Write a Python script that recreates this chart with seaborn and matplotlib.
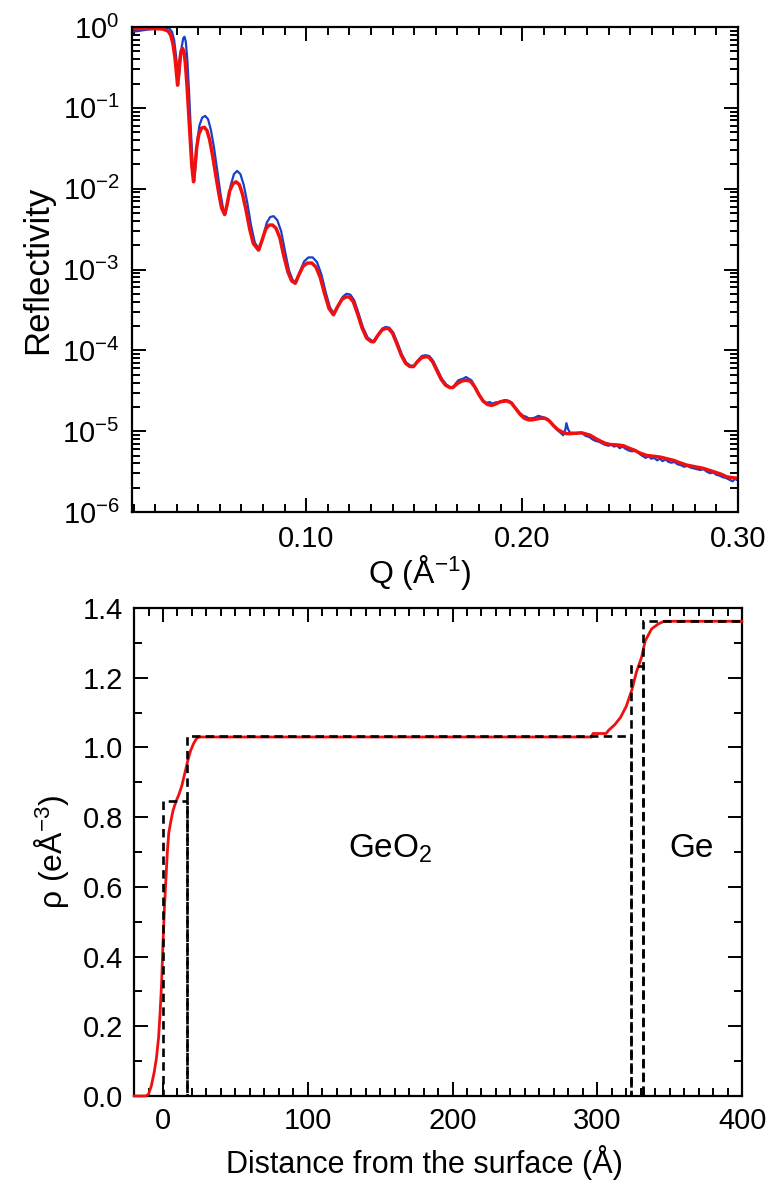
import numpy as np
import pandas as pd
import matplotlib
matplotlib.use('Agg')
import matplotlib.pyplot as plt
import matplotlib.ticker as mticker
import seaborn as sns

# --- reflectivity: measured data (blue) ---
q_data = [0.0193, 0.0230, 0.0270, 0.0310, 0.0340, 0.0365, 0.0378, 0.0388, 0.0397, 0.0405,
          0.0410, 0.0416, 0.0423, 0.0430, 0.0436, 0.0442, 0.0449, 0.0457, 0.0465, 0.0473,
          0.0481, 0.0487, 0.0495, 0.0505, 0.0518, 0.0532, 0.0545, 0.0558, 0.0572, 0.0587,
          0.0602, 0.0615, 0.0626, 0.0637, 0.0650, 0.0665, 0.0680, 0.0695, 0.0710, 0.0726,
          0.0744, 0.0762, 0.0783, 0.0800, 0.0817, 0.0833, 0.0849, 0.0866, 0.0884, 0.0902,
          0.0920, 0.0937, 0.0953, 0.0970, 0.0990, 0.1010, 0.1030, 0.1050, 0.1070, 0.1090,
          0.1110, 0.1130, 0.1148, 0.1168, 0.1186, 0.1204, 0.1222, 0.1242, 0.1262, 0.1284,
          0.1304, 0.1316, 0.1334, 0.1352, 0.1368, 0.1385, 0.1403, 0.1423, 0.1443, 0.1463,
          0.1483, 0.1500, 0.1518, 0.1535, 0.1552, 0.1570, 0.1588, 0.1608, 0.1628, 0.1648,
          0.1668, 0.1682, 0.1695, 0.1705, 0.1715, 0.1727, 0.1740, 0.1752, 0.1765, 0.1780,
          0.1800, 0.1818, 0.1835, 0.1850, 0.1862, 0.1875, 0.1890, 0.1905, 0.1918, 0.1932,
          0.1948, 0.1968, 0.1988, 0.2005, 0.2018, 0.2030, 0.2048, 0.2060, 0.2075, 0.2088,
          0.2100, 0.2118, 0.2135, 0.2150, 0.2165, 0.2178, 0.2190, 0.2200, 0.2205, 0.2212,
          0.2222, 0.2235, 0.2250, 0.2265, 0.2280, 0.2295, 0.2310, 0.2325, 0.2340, 0.2355,
          0.2370, 0.2385, 0.2400, 0.2412, 0.2425, 0.2440, 0.2452, 0.2465, 0.2480, 0.2495,
          0.2510, 0.2522, 0.2535, 0.2548, 0.2560, 0.2572, 0.2585, 0.2598, 0.2612, 0.2625,
          0.2638, 0.2650, 0.2665, 0.2678, 0.2692, 0.2705, 0.2720, 0.2735, 0.2750, 0.2765,
          0.2780, 0.2795, 0.2810, 0.2825, 0.2840, 0.2855, 0.2870, 0.2885, 0.2900, 0.2915,
          0.2930, 0.2945, 0.2960, 0.2975, 0.2985, 0.3000]
logr_data = [-0.060, -0.045, -0.030, -0.018, -0.012, -0.015, -0.06, -0.16, -0.36, -0.58,
             -0.62, -0.45, -0.25, -0.14, -0.12, -0.18, -0.40, -0.80, -1.25, -1.65,
             -1.90, -1.72, -1.42, -1.22, -1.12, -1.10, -1.14, -1.27, -1.48, -1.76,
             -2.05, -2.25, -2.31, -2.16, -1.96, -1.82, -1.78, -1.82, -1.95, -2.16,
             -2.45, -2.67, -2.75, -2.60, -2.42, -2.35, -2.34, -2.39, -2.53, -2.78,
             -3.01, -3.13, -3.16, -3.03, -2.90, -2.85, -2.85, -2.91, -3.06, -3.28,
             -3.47, -3.55, -3.45, -3.34, -3.30, -3.31, -3.38, -3.54, -3.71, -3.84,
             -3.88, -3.89, -3.81, -3.73, -3.71, -3.72, -3.78, -3.91, -4.05, -4.15,
             -4.19, -4.19, -4.12, -4.07, -4.06, -4.07, -4.13, -4.24, -4.35, -4.42,
             -4.46, -4.45, -4.40, -4.37, -4.36, -4.35, -4.33, -4.35, -4.37, -4.44,
             -4.54, -4.62, -4.65, -4.64, -4.66, -4.645, -4.64, -4.63, -4.615, -4.62,
             -4.64, -4.71, -4.77, -4.81, -4.82, -4.84, -4.84, -4.83, -4.81, -4.82,
             -4.83, -4.85, -4.90, -4.95, -4.99, -5.02, -5.05, -4.98, -4.90, -4.97,
             -5.02, -5.02, -5.03, -5.02, -5.03, -5.06, -5.07, -5.10, -5.12, -5.13,
             -5.15, -5.17, -5.18, -5.16, -5.19, -5.18, -5.21, -5.19, -5.22, -5.24,
             -5.25, -5.23, -5.26, -5.29, -5.31, -5.33, -5.31, -5.34, -5.33, -5.36,
             -5.34, -5.37, -5.35, -5.38, -5.39, -5.38, -5.41, -5.42, -5.44, -5.43,
             -5.45, -5.46, -5.47, -5.48, -5.47, -5.50, -5.52, -5.51, -5.54, -5.55,
             -5.57, -5.58, -5.60, -5.62, -5.59, -5.61]

# --- reflectivity: fit (red) ---
q_fit = [0.0193, 0.0250, 0.0300, 0.0335, 0.0360, 0.0372, 0.0382, 0.0392, 0.0400, 0.0404,
         0.0409, 0.0414, 0.0420, 0.0427, 0.0434, 0.0440, 0.0447, 0.0455, 0.0463, 0.0470,
         0.0478, 0.0484, 0.0492, 0.0502, 0.0515, 0.0528, 0.0540, 0.0552, 0.0565, 0.0580,
         0.0595, 0.0608, 0.0622, 0.0633, 0.0645, 0.0660, 0.0675, 0.0690, 0.0705, 0.0720,
         0.0738, 0.0755, 0.0779, 0.0795, 0.0812, 0.0828, 0.0844, 0.0860, 0.0878, 0.0895,
         0.0915, 0.0932, 0.0949, 0.0965, 0.0985, 0.1005, 0.1026, 0.1045, 0.1065, 0.1085,
         0.1105, 0.1126, 0.1145, 0.1165, 0.1183, 0.1200, 0.1218, 0.1238, 0.1258, 0.1280,
         0.1300, 0.1312, 0.1330, 0.1350, 0.1365, 0.1381, 0.1400, 0.1420, 0.1440, 0.1460,
         0.1480, 0.1497, 0.1515, 0.1535, 0.1550, 0.1566, 0.1585, 0.1605, 0.1625, 0.1645,
         0.1665, 0.1679, 0.1700, 0.1720, 0.1740, 0.1760, 0.1780, 0.1800, 0.1820, 0.1840,
         0.1860, 0.1880, 0.1900, 0.1929, 0.1950, 0.1970, 0.1990, 0.2010, 0.2030, 0.2045,
         0.2065, 0.2085, 0.2106, 0.2125, 0.2145, 0.2165, 0.2185, 0.2205, 0.2222, 0.2245,
         0.2276, 0.2315, 0.2340, 0.2361, 0.2385, 0.2407, 0.2440, 0.2469, 0.2495, 0.2515,
         0.2545, 0.2577, 0.2610, 0.2639, 0.2670, 0.2700, 0.2730, 0.2763, 0.2800, 0.2839,
         0.2886, 0.2920, 0.2948, 0.3001]
logr_fit = [-0.020, -0.018, -0.020, -0.025, -0.050, -0.10, -0.20, -0.38, -0.60, -0.72,
            -0.60, -0.42, -0.30, -0.264, -0.31, -0.45, -0.70, -1.05, -1.42, -1.72,
            -1.915, -1.75, -1.50, -1.33, -1.25, -1.24, -1.28, -1.39, -1.57, -1.82,
            -2.06, -2.24, -2.32, -2.20, -2.03, -1.94, -1.915, -1.95, -2.07, -2.25,
            -2.50, -2.68, -2.76, -2.64, -2.50, -2.45, -2.45, -2.49, -2.61, -2.82,
            -3.03, -3.14, -3.17, -3.07, -2.96, -2.92, -2.92, -2.97, -3.10, -3.30,
            -3.48, -3.56, -3.46, -3.37, -3.34, -3.34, -3.40, -3.55, -3.72, -3.85,
            -3.89, -3.895, -3.82, -3.75, -3.73, -3.73, -3.79, -3.92, -4.06, -4.16,
            -4.20, -4.20, -4.14, -4.09, -4.08, -4.08, -4.14, -4.25, -4.36, -4.43,
            -4.46, -4.46, -4.41, -4.38, -4.37, -4.38, -4.45, -4.55, -4.63, -4.67,
            -4.68, -4.66, -4.635, -4.625, -4.65, -4.72, -4.79, -4.84, -4.86, -4.86,
            -4.85, -4.84, -4.84, -4.87, -4.93, -4.98, -5.01, -5.03, -5.03, -5.025,
            -5.02, -5.05, -5.09, -5.12, -5.15, -5.165, -5.17, -5.18, -5.21, -5.23,
            -5.27, -5.30, -5.31, -5.32, -5.34, -5.36, -5.39, -5.42, -5.44, -5.46,
            -5.50, -5.53, -5.565, -5.585]

# --- electron density profile (red, smooth) ---
z_prof = [-20, -12, -10, -8, -6, -4.5, -3, -2, -1, 0, 1, 2, 3, 4, 5.5, 7, 9, 11, 13, 15,
          17, 19, 21, 23, 25, 296, 297, 306, 308, 312, 316, 320, 324, 327, 330.6, 333,
          337.5, 342, 346, 400]
rho_prof = [0.0, 0.0, 0.005, 0.03, 0.07, 0.11, 0.17, 0.24, 0.32, 0.44, 0.54, 0.62, 0.70,
            0.755, 0.79, 0.82, 0.845, 0.865, 0.89, 0.925, 0.96, 0.99, 1.01, 1.025, 1.03,
            1.03, 1.04, 1.04, 1.05, 1.065, 1.086, 1.118, 1.167, 1.216, 1.259, 1.305,
            1.34, 1.354, 1.362, 1.362]

# --- box (slab) model, black dashed ---
layer_start = [0.0, 16.5, 323.0, 331.5]
layer_width = [16.5, 306.5, 8.5, 68.5]
layer_rho = [0.845, 1.032, 1.235, 1.362]

sns.set_theme(style='ticks')
plt.rcParams['font.family'] = ['Liberation Sans', 'DejaVu Sans']
plt.rcParams['mathtext.fontset'] = 'custom'
plt.rcParams['mathtext.rm'] = 'Liberation Sans'
plt.rcParams['mathtext.it'] = 'Liberation Sans:italic'
plt.rcParams['mathtext.default'] = 'regular'
plt.rcParams['text.color'] = 'black'
plt.rcParams['axes.labelcolor'] = 'black'

BLUE = '#1a3fc8'
RED = '#f01010'

df_data = pd.DataFrame({'Q': q_data, 'R': 10.0 ** np.array(logr_data)})
df_fit = pd.DataFrame({'Q': q_fit, 'R': 10.0 ** np.array(logr_fit)})
df_prof = pd.DataFrame({'z': z_prof, 'rho': rho_prof})

fig = plt.figure(figsize=(7.73, 11.85), dpi=100)
ax1 = fig.add_axes([0.1708, 0.5679, 0.784, 0.4093])
ax2 = fig.add_axes([0.1734, 0.0751, 0.7866, 0.4118])


def style_axes(ax, pad):
    for s in ax.spines.values():
        s.set_linewidth(1.6)
        s.set_color('black')
    ax.tick_params(which='both', direction='in', top=True, right=True,
                   colors='black', width=1.4, labelsize=21, pad=pad)
    ax.tick_params(which='major', length=10)
    ax.tick_params(which='minor', length=5.5)


# top panel: reflectivity
sns.lineplot(data=df_data, x='Q', y='R', ax=ax1, color=BLUE, lw=1.6,
             estimator=None, sort=False)
sns.lineplot(data=df_fit, x='Q', y='R', ax=ax1, color=RED, lw=2.5,
             estimator=None, sort=False)
ax1.set_yscale('log')
ax1.set_xlim(0.0193, 0.30)
ax1.set_ylim(1e-6, 1)
ax1.xaxis.set_major_locator(mticker.MultipleLocator(0.10))
ax1.xaxis.set_minor_locator(mticker.MultipleLocator(0.01))
ax1.xaxis.set_major_formatter(mticker.FormatStrFormatter('%.2f'))
ax1.yaxis.set_major_locator(mticker.LogLocator(base=10, numticks=10))
ax1.yaxis.set_minor_locator(mticker.LogLocator(base=10, subs=np.arange(2, 10), numticks=20))
ax1.yaxis.set_major_formatter(mticker.LogFormatterSciNotation())
ax1.yaxis.set_minor_formatter(mticker.NullFormatter())
style_axes(ax1, 9)
ax1.set_xlabel('Q (Å$^{-1}$)', fontsize=23, labelpad=0)
ax1.xaxis.set_label_coords(0.475, -0.085)
ax1.set_ylabel('Reflectivity', fontsize=25, labelpad=6)

# bottom panel: density profile (red above the spine, dashes on top)
sns.lineplot(data=df_prof, x='z', y='rho', ax=ax2, color=RED, lw=2.0,
             estimator=None, sort=False, zorder=2.7, clip_on=False)
ax2.bar(layer_start, layer_rho, width=layer_width, align='edge', fill=False,
        edgecolor='black', linewidth=1.9, linestyle=(0, (3.2, 2.0)), zorder=3)
ax2.set_xlim(-20, 400)
ax2.set_ylim(0, 1.4)
ax2.xaxis.set_major_locator(mticker.MultipleLocator(100))
ax2.xaxis.set_minor_locator(mticker.MultipleLocator(10))
ax2.yaxis.set_major_locator(mticker.MultipleLocator(0.2))
ax2.yaxis.set_minor_locator(mticker.MultipleLocator(0.1))
ax2.yaxis.set_major_formatter(mticker.FormatStrFormatter('%.1f'))
style_axes(ax2, 8)
ax2.set_xlabel('Distance from the surface (Å)', fontsize=22, labelpad=8)
ax2.xaxis.set_label_coords(0.478, -0.1)
ax2.set_ylabel('ρ (eÅ$^{-3}$)', fontsize=23, labelpad=8)

ax2.text(157, 0.71, 'GeO$_2$', fontsize=24, ha='center', va='center')
ax2.text(365, 0.71, 'Ge', fontsize=24, ha='center', va='center')

fig.savefig('out.png', dpi=100)
